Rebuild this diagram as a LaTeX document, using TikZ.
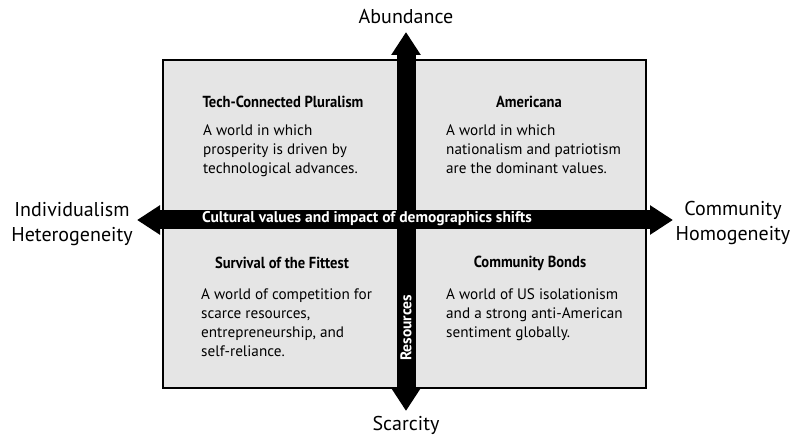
\documentclass[tikz,border=0pt]{standalone}
\usepackage{fontspec}
\setmainfont{PT Sans}
\usetikzlibrary{arrows.meta}
\tikzset{
  quad/.style={draw=black, line width=1.5bp, fill=black!10},
  axisarrow/.style={line width=19bp, black,
    {Triangle[length=23bp,width=28bp]}-{Triangle[length=23bp,width=28bp]}},
  title/.style={font=\fontsize{16bp}{18bp}\selectfont\bfseries},
  body/.style={font=\fontsize{15.2bp}{19bp}\selectfont, align=left, anchor=north west, inner sep=0pt},
  pole/.style={font=\fontsize{20bp}{24.5bp}\selectfont, align=center},
  axislabel/.style={font=\fontsize{15.5bp}{17bp}\selectfont\bfseries, text=white}
}
\newcommand{\narrow}[1]{\scalebox{0.91}[1]{#1}}
\begin{document}
\begin{tikzpicture}[x=1bp,y=-1bp]
  \useasboundingbox (0,0) rectangle (795,440);
  \draw[quad] (163,60) rectangle (646,388);
  % poles
  \node[pole] (abund) at (406,17) {Abundance};
  \node[pole] (scarc) at (406,425) {Scarcity};
  \node[pole] (indiv) at (72,224) {Individualism\\Heterogeneity};
  \node[pole] (commu) at (733,223) {Community\\Homogeneity};
  \coordinate (ntip) at (406,32);
  \coordinate (stip) at (406,411);
  \coordinate (wtip) at (137,220);
  \coordinate (etip) at (673,220);
  \draw[axisarrow] (wtip) -- (etip);
  \draw[axisarrow] (ntip) -- (stip);
  \node[axislabel] (culture) at (367,219) {Cultural values and impact of demographics shifts};
  \node[axislabel, rotate=90] (resour) at (406,328) {Resources};
  % quadrants
  \node[title] (tcp) at (283,102) {\narrow{Tech-Connected Pluralism}};
  \node[body] (tcpb) at (203,124) {A world in which\\prosperity is driven by\\technological advances.};
  \node[title] (amer) at (529,102) {\narrow{Americana}};
  \node[body] (amerb) at (446,124) {A world in which\\nationalism and patriotism\\are the dominant values.};
  \node[title] (surv) at (282,263) {\narrow{Survival of the Fittest}};
  \node[body] (survb) at (201,288) {A world of competition for\\scarce resources,\\entrepreneurship, and\\self-reliance.};
  \node[title] (bond) at (530,263) {\narrow{Community Bonds}};
  \node[body] (bondb) at (446,288) {A world of US isolationism\\and a strong anti-American\\sentiment globally.};
\end{tikzpicture}
\end{document}
